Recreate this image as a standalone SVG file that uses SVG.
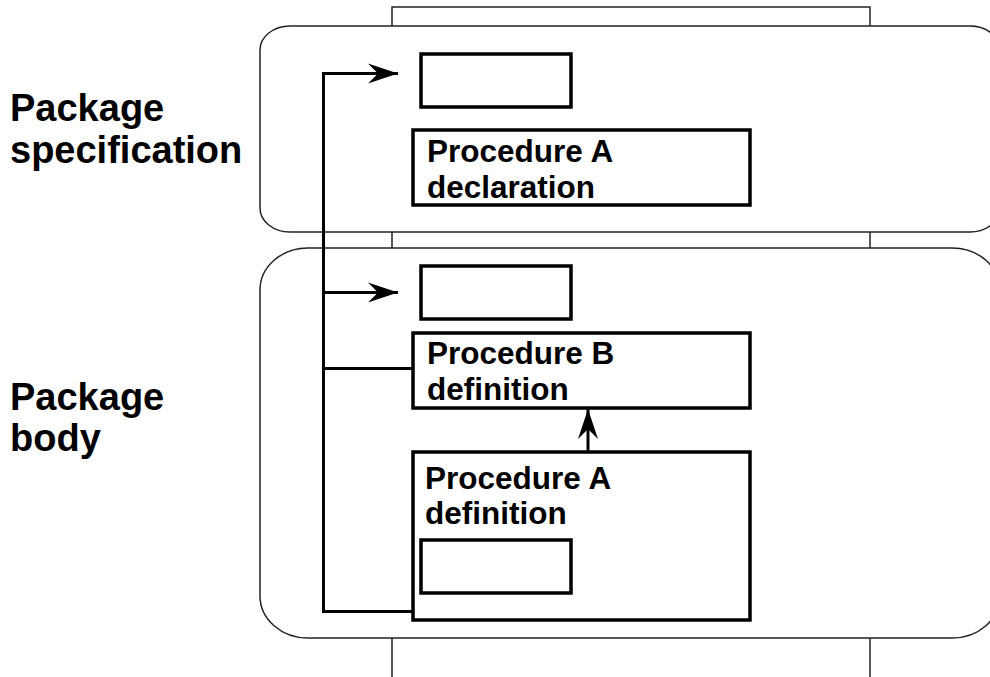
<svg xmlns="http://www.w3.org/2000/svg" width="990" height="677" viewBox="0 0 990 677">
<style>
  .frame { fill: none; stroke: #222; stroke-width: 1.5; }
  .pkg { fill: #fff; stroke: #222; stroke-width: 1.5; }
  .box { fill: #fff; stroke: #000; stroke-width: 3.5; }
  .conn { fill: none; stroke: #000; stroke-width: 3; }
  .lbl { font-family: "Liberation Sans", Arial, sans-serif; font-weight: bold; font-size: 38px; fill: #000; }
  .txt { font-family: "Liberation Sans", Arial, sans-serif; font-weight: bold; font-size: 31.5px; fill: #000; }
</style>
<defs>
  <marker id="arr" markerUnits="userSpaceOnUse" markerWidth="32" markerHeight="22" refX="30" refY="11" orient="auto">
    <path d="M0,1 L30,11 L0,21 L10,11 Z" fill="#000"/>
  </marker>
</defs>

<g id="frame">
  <path class="frame" d="M392,26 V7 H870 V26"/>
  <path class="frame" d="M392,232 V248 M870,232 V248"/>
  <path class="frame" d="M392,638 V677 M870,638 V677"/>
</g>

<g id="package-spec">
  <rect class="pkg" x="260" y="26" width="740" height="206" rx="30" ry="24"/>
  <text class="lbl" x="10" y="121">Package</text>
  <text class="lbl" x="10" y="163">specification</text>
</g>

<g id="package-body">
  <rect class="pkg" x="260" y="248" width="740" height="390" rx="48" ry="42"/>
  <text class="lbl" x="10" y="410">Package</text>
  <text class="lbl" x="10" y="451">body</text>
</g>

<g id="spec-slot">
  <rect class="box" x="421" y="54" width="150" height="53"/>
</g>

<g id="proc-a-decl">
  <rect class="box" x="413" y="130" width="337" height="75"/>
  <text class="txt" x="427" y="162">Procedure A</text>
  <text class="txt" x="427" y="198">declaration</text>
</g>

<g id="body-slot">
  <rect class="box" x="421" y="266" width="150" height="53"/>
</g>

<g id="proc-b-def">
  <rect class="box" x="413" y="333" width="337" height="75"/>
  <text class="txt" x="427" y="364">Procedure B</text>
  <text class="txt" x="427" y="400">definition</text>
</g>

<g id="proc-a-def">
  <rect class="box" x="413" y="452" width="337" height="168"/>
  <text class="txt" x="425" y="489">Procedure A</text>
  <text class="txt" x="425" y="524">definition</text>
  <rect class="box" x="421" y="540" width="150" height="53"/>
</g>

<g id="connectors">
  <path class="conn" d="M413,611.5 H323.5 V73.5 H368"/>
  <line class="conn" x1="323.5" y1="73.5" x2="398" y2="73.5" marker-end="url(#arr)"/>
  <line class="conn" x1="323.5" y1="292.5" x2="398" y2="292.5" marker-end="url(#arr)"/>
  <line class="conn" x1="323.5" y1="368.5" x2="413" y2="368.5"/>
  <line class="conn" x1="588" y1="452" x2="588" y2="409" marker-end="url(#arr)"/>
</g>
</svg>
